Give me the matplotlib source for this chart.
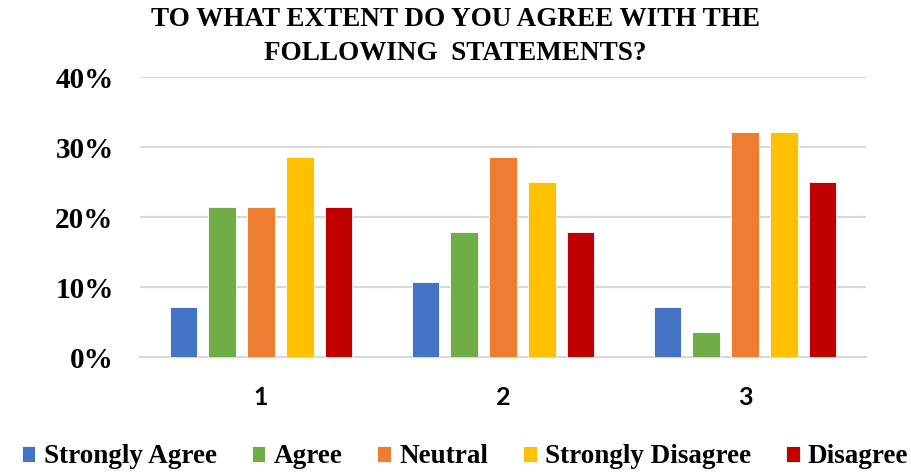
import matplotlib.pyplot as plt
import numpy as np
from matplotlib.ticker import PercentFormatter

# Data (shares of respondents)
statements = ["1", "2", "3"]
series_names = ["Strongly Agree", "Agree", "Neutral", "Strongly Disagree", "Disagree"]
strongly_agree = [0.0714, 0.1071, 0.0714]
agree = [0.2143, 0.1786, 0.0357]
neutral = [0.2143, 0.2857, 0.3214]
strongly_disagree = [0.2857, 0.25, 0.3214]
disagree = [0.2143, 0.1786, 0.25]
colors = ["#4472C4", "#70AD47", "#ED7D31", "#FFC000", "#C00000"]

series = [strongly_agree, agree, neutral, strongly_disagree, disagree]

serif = ["Liberation Serif", "DejaVu Serif"]

fig = plt.figure(figsize=(9.12, 4.72), dpi=100)
ax = fig.add_axes([140 / 912, 1 - 357 / 472, (866 - 140) / 912, (357 - 77) / 472])

x = np.arange(len(statements))
step = 0.161
width = 0.112
for i, (vals, name, col) in enumerate(zip(series, series_names, colors)):
    offset = (i - 2) * step
    ax.bar(x + offset, vals, width, color=col, label=name,
           edgecolor="white", linewidth=0.6, zorder=3)

ax.set_xlim(-0.5, 2.5)
ax.set_ylim(0, 0.40)
ax.set_yticks([0, 0.1, 0.2, 0.3, 0.4])
ax.yaxis.set_major_formatter(PercentFormatter(1.0, decimals=0))
ax.grid(axis="y", color="#d9d9d9", linewidth=1.5, zorder=0)
ax.set_axisbelow(True)
for s in ["top", "right", "left"]:
    ax.spines[s].set_visible(False)
ax.spines["bottom"].set_color("#d9d9d9")
ax.spines["bottom"].set_linewidth(1.5)

ax.set_xticks(x)
ax.set_xticklabels(statements, fontfamily="Lato", fontweight="bold", fontsize=18)
ax.tick_params(axis="x", length=0, pad=21)
ax.tick_params(axis="y", length=0, pad=19)
for lab in ax.get_yticklabels():
    lab.set_fontfamily(serif)
    lab.set_fontweight("bold")
    lab.set_fontsize(21)

fig.text(0.499, 0.985, "TO WHAT EXTENT DO YOU AGREE WITH THE\nFOLLOWING  STATEMENTS?",
         ha="center", va="top", fontsize=19.5, fontweight="bold",
         fontfamily=serif, linespacing=1.45)

leg = fig.legend(loc="center", bbox_to_anchor=(0.51, 0.032), ncol=5, frameon=False,
                 prop={"family": serif, "weight": "bold", "size": 19.5},
                 handlelength=0.5, handleheight=0.5, handletextpad=0.3,
                 columnspacing=1.3, borderaxespad=0)

fig.savefig("out.png", dpi=100)
